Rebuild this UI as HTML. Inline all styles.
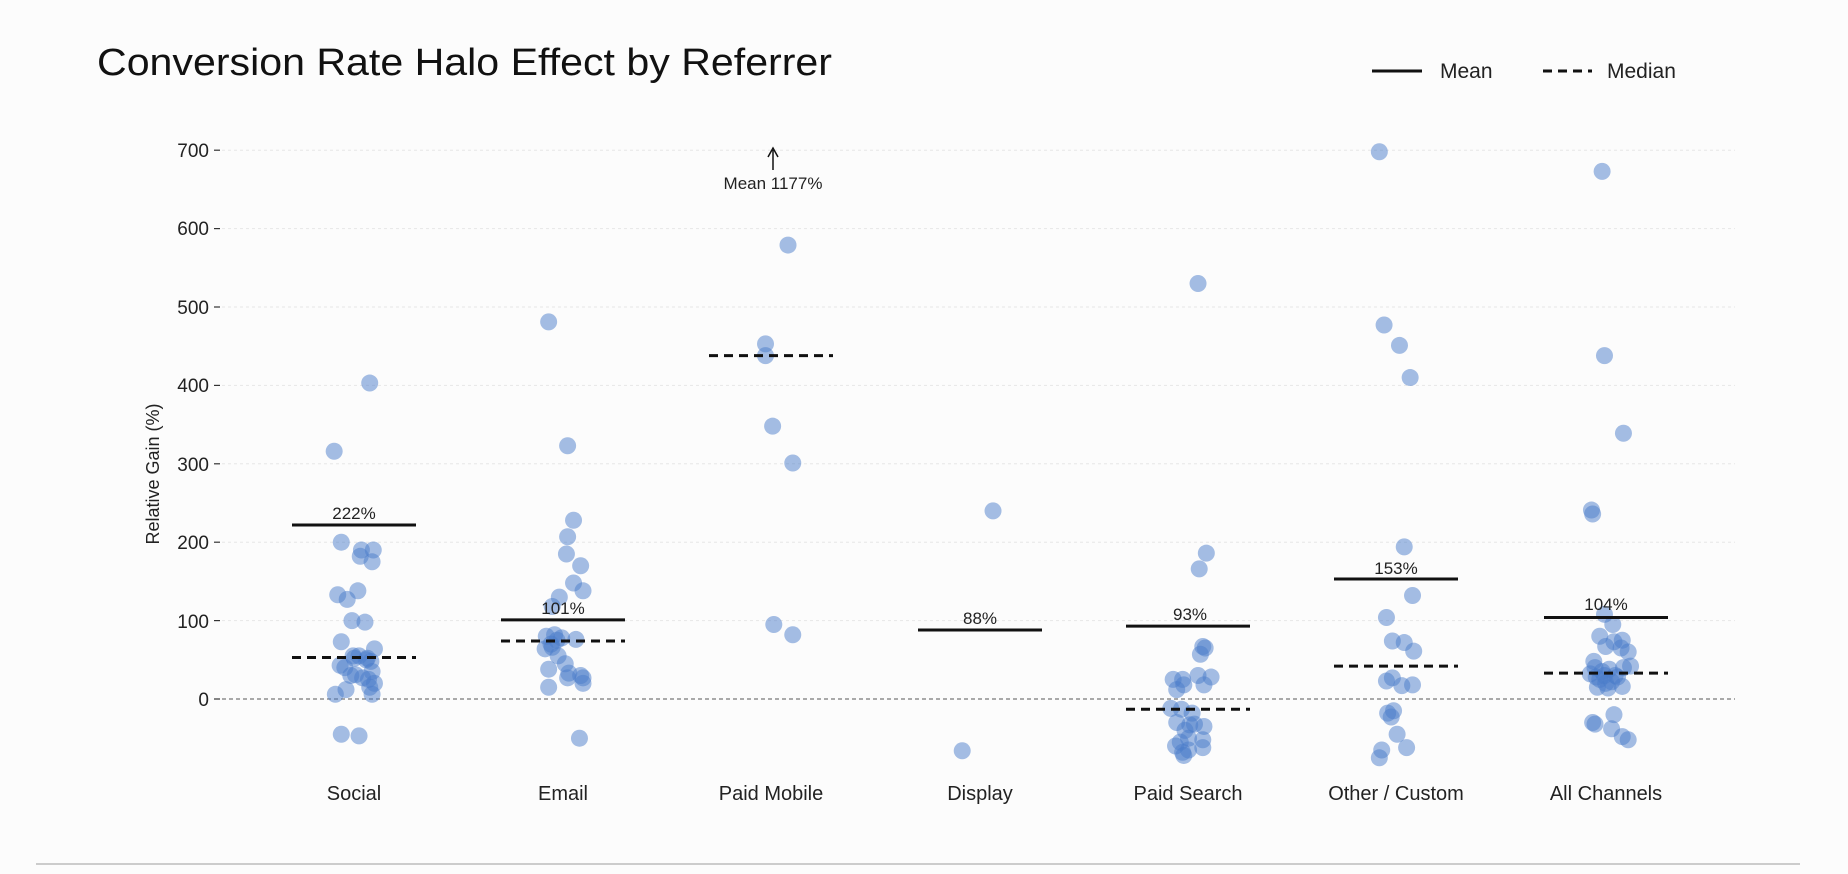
<!DOCTYPE html>
<html><head><meta charset="utf-8"><style>
html,body{margin:0;padding:0;background:#fcfcfc;}
svg{display:block;font-family:"Liberation Sans",sans-serif;}
</style></head><body>
<svg id="s" width="1848" height="874" viewBox="0 0 1848 874" xmlns="http://www.w3.org/2000/svg">
<rect width="1848" height="874" fill="#fcfcfc"/>
<text x="97" y="75" font-size="38" fill="#111" textLength="735" lengthAdjust="spacingAndGlyphs">Conversion Rate Halo Effect by Referrer</text>
<line x1="1372" y1="71" x2="1422" y2="71" stroke="#111" stroke-width="3"/>
<text x="1440" y="78" font-size="21" fill="#222">Mean</text>
<line x1="1543" y1="71" x2="1592" y2="71" stroke="#111" stroke-width="3" stroke-dasharray="9,6"/>
<text x="1607" y="78" font-size="21" fill="#222">Median</text>
<g id="grid"></g>
<g font-size="19" fill="#222" text-anchor="end">
<text x="209" y="157">700</text><text x="209" y="235">600</text><text x="209" y="314">500</text>
<text x="209" y="392">400</text><text x="209" y="471">300</text><text x="209" y="549">200</text>
<text x="209" y="628">100</text><text x="209" y="706">0</text>
</g>
<text transform="translate(159,474) rotate(-90)" font-size="18" fill="#222" text-anchor="middle">Relative Gain (%)</text>
<g font-size="20" fill="#222" text-anchor="middle">
<text x="354" y="800">Social</text><text x="563" y="800">Email</text><text x="771" y="800">Paid Mobile</text>
<text x="980" y="800">Display</text><text x="1188" y="800">Paid Search</text><text x="1396" y="800">Other / Custom</text>
<text x="1606" y="800">All Channels</text>
</g>
<g id="pts"></g>
<g id="lines"></g>
<g font-size="17" fill="#222" text-anchor="middle">
<text x="354" y="519">222%</text><text x="563" y="614">101%</text><text x="980" y="624">88%</text>
<text x="1190" y="620">93%</text><text x="1396" y="574">153%</text><text x="1606" y="610">104%</text>
<text x="773" y="189">Mean 1177%</text>
</g>
<line x1="773" y1="170" x2="773" y2="150" stroke="#111" stroke-width="1.5"/>
<path d="M768,157 L773,148 L778,157" fill="none" stroke="#111" stroke-width="1.5"/>
<line x1="36" y1="864" x2="1800" y2="864" stroke="#ccc" stroke-width="2"/>
</svg>
<script>
var NS="http://www.w3.org/2000/svg";
function Y(v){return 699-v*0.784;}
function el(p,t,a){var e=document.createElementNS(NS,t);for(var k in a)e.setAttribute(k,a[k]);document.getElementById(p).appendChild(e);}
for(var v=100;v<=700;v+=100){el("grid","line",{x1:222,x2:1735,y1:Y(v),y2:Y(v),stroke:"#e6e6e6","stroke-width":1,"stroke-dasharray":"3,3"});}
for(var v=0;v<=700;v+=100){el("grid","line",{x1:214,x2:220,y1:Y(v),y2:Y(v),stroke:"#333","stroke-width":1.2});}
el("grid","line",{x1:222,x2:1735,y1:Y(0),y2:Y(0),stroke:"#777","stroke-width":1.3,"stroke-dasharray":"4,3"});
var P=[[312,403],[282,316],[288,200],[305,190],[315,190],[304,182],[314,175],[285,133],[293,127],[302,138],[297,100],[308,98],[288,73],[316,64],[287,43],[291,40],[298,55],[303,55],[310,52],[313,48],[300,31],[306,27],[314,35],[296,30],[311,25],[316,20],[312,15],[292,12],[283,6],[314,6],[288,-45],[303,-47],[309,50],[299,52],
[463,481],[479,323],[484,228],[479,207],[478,185],[490,170],[484,148],[492,138],[472,130],[466,118],[468,82],[461,80],[474,78],[486,76],[460,64],[466,66],[471,55],[477,45],[463,38],[480,33],[490,30],[479,27],[492,27],[492,20],[463,15],[489,-50],[470,75],[465,70],
[665,579],[646,453],[646,438],[652,348],[669,301],[653,95],[669,82],
[838,240],[812,-66],
[1011,530],[1018,186],[1012,166],[1015,67],[1017,65],[1013,57],[990,25],[998,25],[1011,30],[1022,28],[993,12],[999,18],[1016,18],[988,-12],[997,-13],[1006,-18],[993,-30],[1004,-33],[1008,-32],[1016,-35],[1000,-40],[996,-55],[1003,-50],[1015,-52],[992,-60],[998,-68],[1003,-65],[1015,-62],[999,-72],
[1164,698],[1168,477],[1181,451],[1190,410],[1185,194],[1192,132],[1170,104],[1175,74],[1185,72],[1193,61],[1170,23],[1175,27],[1183,17],[1192,18],[1171,-18],[1176,-15],[1174,-23],[1179,-45],[1166,-65],[1187,-62],[1164,-75],
[1352,673],[1354,438],[1370,339],[1343,241],[1344,236],[1354,108],[1361,95],[1350,80],[1362,73],[1369,75],[1355,67],[1368,65],[1374,60],[1345,48],[1346,40],[1352,35],[1358,38],[1363,30],[1370,40],[1376,42],[1350,25],[1355,20],[1360,22],[1365,28],[1348,15],[1357,14],[1369,16],[1344,-30],[1346,-32],[1362,-20],[1360,-38],[1369,-48],[1374,-52],[1347,28],[1354,30],[1342,32]];
P.forEach(function(p){el("pts","circle",{cx:p[0]*1.185,cy:Y(p[1]),r:8.5,fill:"#4a7cc9","fill-opacity":0.5});});
var C=[354,563,771,980,1188,1396,1606];
var M=[[0,222],[1,101],[3,88],[4,93],[5,153],[6,104]];
M.forEach(function(m){el("lines","line",{x1:C[m[0]]-62,x2:C[m[0]]+62,y1:Y(m[1]),y2:Y(m[1]),stroke:"#111","stroke-width":3});});
var D=[[0,53],[1,74],[2,438],[4,-13],[5,42],[6,33]];
D.forEach(function(m){el("lines","line",{x1:C[m[0]]-62,x2:C[m[0]]+62,y1:Y(m[1]),y2:Y(m[1]),stroke:"#111","stroke-width":3,"stroke-dasharray":"9,6"});});
</script>
</body></html>
